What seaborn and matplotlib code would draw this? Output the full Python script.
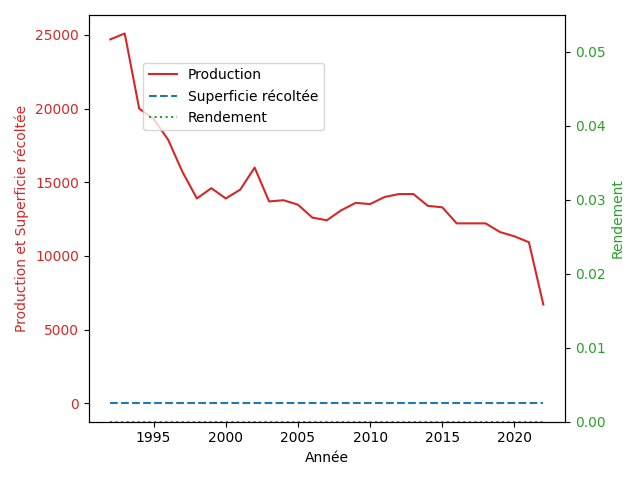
import numpy as np
import pandas as pd
import matplotlib
matplotlib.use("Agg")
import matplotlib.pyplot as plt
import seaborn as sns

# Data
annees = list(range(1992, 2023))
production = [24700, 25100, 20000, 19300, 17900, 15700, 13900, 14600, 13900, 14500,
              16000, 13700, 13780, 13480, 12600, 12420, 13100, 13600, 13520, 14000,
              14200, 14200, 13400, 13300, 12210, 12210, 12210, 11620, 11330, 10930, 6700]
superficie = [0] * len(annees)
rendement = [0.0] * len(annees)

df = pd.DataFrame({"Année": annees, "Production": production,
                   "Superficie récoltée": superficie, "Rendement": rendement})

fig, ax1 = plt.subplots(figsize=(6.4, 4.8), dpi=100)

sns.lineplot(data=df, x="Année", y="Production", ax=ax1, color="tab:red",
             label="Production", legend=False)
sns.lineplot(data=df, x="Année", y="Superficie récoltée", ax=ax1, color="tab:blue",
             linestyle="--", label="Superficie récoltée", legend=False)
ax1.set_xlabel("Année")
ax1.set_ylabel("Production et Superficie récoltée", color="tab:red")
ax1.tick_params(axis="y", labelcolor="tab:red")

ax2 = ax1.twinx()
sns.lineplot(data=df, x="Année", y="Rendement", ax=ax2, color="tab:green",
             linestyle=":", label="Rendement", legend=False)
ax2.set_ylabel("Rendement", color="tab:green")
ax2.tick_params(axis="y", labelcolor="tab:green")
ax2.set_ylim(0, 0.055)

# Combined legend
h1, l1 = ax1.get_legend_handles_labels()
h2, l2 = ax2.get_legend_handles_labels()
ax1.legend(h1 + h2, l1 + l2, loc="upper left", bbox_to_anchor=(0.1, 0.9))

fig.tight_layout()
fig.savefig("out.png")
